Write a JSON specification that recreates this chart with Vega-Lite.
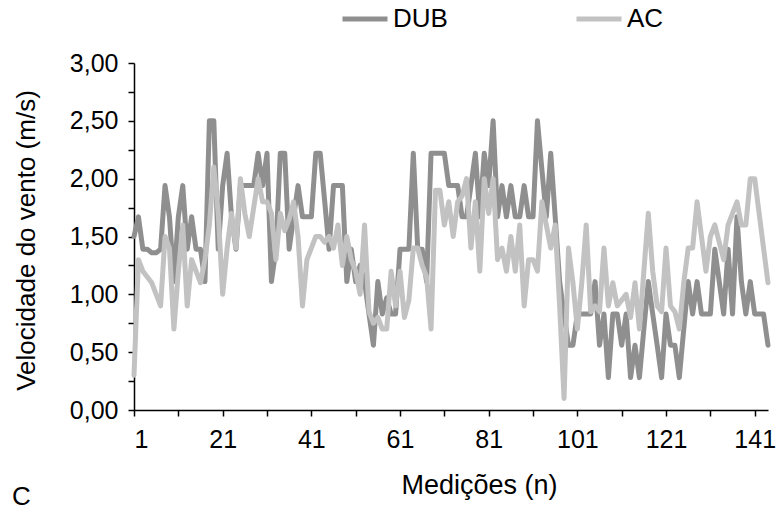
{
  "$schema": "https://vega.github.io/schema/vega-lite/v6.json",
  "width": 634,
  "height": 347,
  "autosize": {"type": "none"},
  "padding": {"left": 134, "top": 63, "right": 10, "bottom": 95},
  "background": "white",
  "config": {
    "view": {"stroke": null},
    "font": "Liberation Sans",
    "axis": {"grid": false, "domainColor": "#000000", "tickColor": "#000000", "domainWidth": 1.5, "tickWidth": 1.5, "labelColor": "#000000", "titleColor": "#000000", "labelFont": "Liberation Sans", "titleFont": "Liberation Sans", "labelFontSize": 25, "titleFontSize": 26, "titleFontWeight": "normal"}
  },
  "title": {"text": "C", "orient": "bottom", "anchor": "start", "frame": "group", "dx": -122, "offset": -14, "fontSize": 26, "fontWeight": "normal", "font": "Liberation Sans", "color": "#000000"},
  "data": {"values": [
    {"n":1,"DUB":1.5,"AC":0.3},{"n":2,"DUB":1.67,"AC":1.3},{"n":3,"DUB":1.39,"AC":1.2},{"n":4,"DUB":1.39,"AC":1.15},{"n":5,"DUB":1.36,"AC":1.1},
    {"n":6,"DUB":1.36,"AC":1.0},{"n":7,"DUB":1.39,"AC":0.9},{"n":8,"DUB":1.94,"AC":1.5},{"n":9,"DUB":1.67,"AC":1.4},{"n":10,"DUB":1.11,"AC":0.7},
    {"n":11,"DUB":1.67,"AC":1.2},{"n":12,"DUB":1.94,"AC":1.6},{"n":13,"DUB":1.39,"AC":0.9},{"n":14,"DUB":1.67,"AC":1.3},{"n":15,"DUB":1.39,"AC":1.2},
    {"n":16,"DUB":1.39,"AC":1.1},{"n":17,"DUB":1.11,"AC":1.3},{"n":18,"DUB":2.5,"AC":1.6},{"n":19,"DUB":2.5,"AC":2.1},{"n":20,"DUB":1.39,"AC":1.7},
    {"n":21,"DUB":1.94,"AC":1.0},{"n":22,"DUB":2.22,"AC":1.4},{"n":23,"DUB":1.67,"AC":1.7},{"n":24,"DUB":1.39,"AC":1.4},{"n":25,"DUB":1.94,"AC":2.0},
    {"n":26,"DUB":1.94,"AC":1.7},{"n":27,"DUB":1.94,"AC":1.5},{"n":28,"DUB":1.94,"AC":1.75},{"n":29,"DUB":2.22,"AC":2.0},{"n":30,"DUB":1.94,"AC":1.8},
    {"n":31,"DUB":2.22,"AC":1.8},{"n":32,"DUB":1.11,"AC":1.7},{"n":33,"DUB":1.39,"AC":1.3},{"n":34,"DUB":2.22,"AC":1.7},{"n":35,"DUB":2.22,"AC":1.55},
    {"n":36,"DUB":1.39,"AC":1.65},{"n":37,"DUB":1.67,"AC":1.8},{"n":38,"DUB":1.94,"AC":1.5},{"n":39,"DUB":1.67,"AC":0.9},{"n":40,"DUB":1.67,"AC":1.3},
    {"n":41,"DUB":1.67,"AC":1.4},{"n":42,"DUB":2.22,"AC":1.5},{"n":43,"DUB":2.22,"AC":1.5},{"n":44,"DUB":1.81,"AC":1.45},{"n":45,"DUB":1.39,"AC":1.5},
    {"n":46,"DUB":1.94,"AC":1.4},{"n":47,"DUB":1.94,"AC":1.6},{"n":48,"DUB":1.94,"AC":1.25},{"n":49,"DUB":1.11,"AC":1.5},{"n":50,"DUB":1.39,"AC":1.3},
    {"n":51,"DUB":1.11,"AC":1.2},{"n":52,"DUB":1.25,"AC":1.0},{"n":53,"DUB":1.11,"AC":1.6},{"n":54,"DUB":0.83,"AC":0.85},{"n":55,"DUB":0.56,"AC":0.75},
    {"n":56,"DUB":1.11,"AC":0.8},{"n":57,"DUB":0.83,"AC":0.7},{"n":58,"DUB":0.97,"AC":0.7},{"n":59,"DUB":0.83,"AC":1.2},{"n":60,"DUB":0.83,"AC":0.9},
    {"n":61,"DUB":1.39,"AC":1.2},{"n":62,"DUB":1.39,"AC":0.8},{"n":63,"DUB":1.39,"AC":0.95},{"n":64,"DUB":2.22,"AC":1.4},{"n":65,"DUB":1.39,"AC":1.4},
    {"n":66,"DUB":1.39,"AC":1.25},{"n":67,"DUB":1.11,"AC":1.15},{"n":68,"DUB":2.22,"AC":0.7},{"n":69,"DUB":2.22,"AC":1.9},{"n":70,"DUB":2.22,"AC":1.9},
    {"n":71,"DUB":2.22,"AC":1.6},{"n":72,"DUB":1.94,"AC":1.8},{"n":73,"DUB":1.94,"AC":1.5},{"n":74,"DUB":1.94,"AC":1.8},{"n":75,"DUB":1.67,"AC":1.85},
    {"n":76,"DUB":1.67,"AC":2.0},{"n":77,"DUB":1.94,"AC":1.4},{"n":78,"DUB":2.22,"AC":1.8},{"n":79,"DUB":1.67,"AC":1.2},{"n":80,"DUB":2.22,"AC":2.0},
    {"n":81,"DUB":1.94,"AC":1.7},{"n":82,"DUB":2.5,"AC":2.0},{"n":83,"DUB":1.67,"AC":1.3},{"n":84,"DUB":1.94,"AC":1.4},{"n":85,"DUB":1.67,"AC":1.2},
    {"n":86,"DUB":1.94,"AC":1.5},{"n":87,"DUB":1.67,"AC":1.2},{"n":88,"DUB":1.67,"AC":1.6},{"n":89,"DUB":1.94,"AC":0.9},{"n":90,"DUB":1.67,"AC":1.3},
    {"n":91,"DUB":1.67,"AC":1.3},{"n":92,"DUB":2.5,"AC":1.2},{"n":93,"DUB":2.08,"AC":1.8},{"n":94,"DUB":1.67,"AC":1.6},{"n":95,"DUB":2.22,"AC":1.4},
    {"n":96,"DUB":1.67,"AC":1.6},{"n":97,"DUB":1.11,"AC":0.9},{"n":98,"DUB":0.83,"AC":0.1},{"n":99,"DUB":0.56,"AC":1.4},{"n":100,"DUB":0.56,"AC":1.1},
    {"n":101,"DUB":0.83,"AC":0.7},{"n":102,"DUB":0.83,"AC":1.1},{"n":103,"DUB":0.83,"AC":1.6},{"n":104,"DUB":0.83,"AC":0.85},{"n":105,"DUB":1.11,"AC":0.9},
    {"n":106,"DUB":0.56,"AC":0.85},{"n":107,"DUB":0.83,"AC":1.4},{"n":108,"DUB":0.28,"AC":0.9},{"n":109,"DUB":0.83,"AC":1.1},{"n":110,"DUB":0.83,"AC":0.9},
    {"n":111,"DUB":0.56,"AC":0.95},{"n":112,"DUB":0.83,"AC":1.0},{"n":113,"DUB":0.28,"AC":0.8},{"n":114,"DUB":0.56,"AC":1.1},{"n":115,"DUB":0.28,"AC":0.7},
    {"n":116,"DUB":0.7,"AC":1.2},{"n":117,"DUB":1.11,"AC":1.7},{"n":118,"DUB":0.83,"AC":1.2},{"n":119,"DUB":0.56,"AC":0.9},{"n":120,"DUB":0.28,"AC":0.85},
    {"n":121,"DUB":0.83,"AC":1.4},{"n":122,"DUB":0.56,"AC":0.9},{"n":123,"DUB":0.56,"AC":0.85},{"n":124,"DUB":0.28,"AC":0.7},{"n":125,"DUB":0.7,"AC":1.1},
    {"n":126,"DUB":1.11,"AC":1.4},{"n":127,"DUB":0.83,"AC":1.4},{"n":128,"DUB":1.11,"AC":1.8},{"n":129,"DUB":0.83,"AC":1.5},{"n":130,"DUB":0.83,"AC":1.2},
    {"n":131,"DUB":0.83,"AC":1.5},{"n":132,"DUB":1.39,"AC":1.6},{"n":133,"DUB":1.11,"AC":1.45},{"n":134,"DUB":0.83,"AC":1.3},{"n":135,"DUB":1.39,"AC":1.6},
    {"n":136,"DUB":0.83,"AC":1.7},{"n":137,"DUB":1.67,"AC":1.8},{"n":138,"DUB":1.11,"AC":1.6},{"n":139,"DUB":0.83,"AC":1.6},{"n":140,"DUB":1.11,"AC":2.0},
    {"n":141,"DUB":0.83,"AC":2.0},{"n":142,"DUB":0.83,"AC":1.7},{"n":143,"DUB":0.83,"AC":1.4},{"n":144,"DUB":0.56,"AC":1.1}
  ]},
  "transform": [{"fold": ["DUB", "AC"], "as": ["serie", "v"]}],
  "encoding": {
    "x": {"field": "n", "type": "quantitative",
      "scale": {"domain": [1, 144], "nice": false, "zero": false},
      "axis": {"title": "Medições (n)", "values": [1,11,21,31,41,51,61,71,81,91,101,111,121,131,141],
        "labelExpr": "(datum.value - 1) % 20 == 0 ? datum.label : ''", "tickSize": 6, "labelPadding": 11, "titlePadding": 20, "titleFontSize": 27, "titleX": 345, "labelFlush": true, "labelOverlap": false}},
    "y": {"field": "v", "type": "quantitative",
      "scale": {"domain": [0, 3], "nice": false},
      "axis": {"title": "Velocidade do vento (m/s)", "values": [0,0.25,0.5,0.75,1,1.25,1.5,1.75,2,2.25,2.5,2.75,3],
        "labelExpr": "round(datum.value*100) % 50 == 0 ? replace(format(datum.value, '.2f'), '.', ',') : ''", "tickSize": 6, "labelPadding": 10, "titlePadding": 30, "titleY": 177, "labelOverlap": false, "labelFlush": false}},
    "color": {"field": "serie", "type": "nominal",
      "scale": {"domain": ["DUB", "AC"], "range": ["#8f8f8f", "#c2c2c2"]},
      "legend": {"title": null, "orient": "none", "legendX": 206, "legendY": -69, "direction": "horizontal", "symbolType": "stroke", "symbolSize": 2025, "symbolStrokeWidth": 5, "labelFontSize": 26, "labelFont": "Liberation Sans", "labelColor": "#000000", "labelOffset": 3, "columnPadding": 118, "padding": 0}}
  },
  "layer": [
    {"transform": [{"filter": "datum.serie == 'DUB'"}], "mark": {"type": "line", "strokeWidth": 5, "strokeJoin": "round", "strokeCap": "round"}},
    {"transform": [{"filter": "datum.serie == 'AC'"}], "mark": {"type": "line", "strokeWidth": 5, "strokeJoin": "round", "strokeCap": "round"}}
  ]
}
